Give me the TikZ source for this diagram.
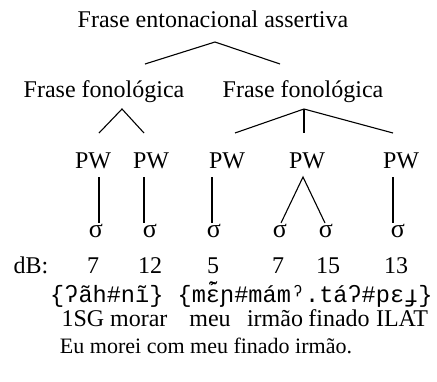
\documentclass[tikz,border=0pt]{standalone}
\usepackage{fontspec}
\setmainfont{Liberation Serif}
\newfontfamily\ipafont{Liberation Mono}
\newcommand{\epsnasacute}{ɛ̃\llap{\raisebox{3pt}{\char"00B4}}}
\begin{document}
\begin{tikzpicture}[x=1pt,y=-1pt,
  txt/.style={font=\fontsize{24}{28}\selectfont, inner sep=0pt, anchor=base},
  sig/.style={font=\fontsize{26}{28}\selectfont, inner sep=0pt, anchor=base},
  trtxt/.style={font=\fontsize{22}{26}\selectfont, inner sep=0pt, anchor=base},
  ipa/.style={font=\ipafont\fontsize{23.6}{28}\selectfont, inner sep=0pt, anchor=base west},
  ln/.style={line width=1.1pt}]
\useasboundingbox (0,0) rectangle (437,381);
% text nodes
\node[txt] (title) at (213,27) {Frase entonacional assertiva};
\node[txt] (ffL) at (104,97) {Frase fonológica};
\node[txt] (ffR) at (303,97) {Frase fonológica};
\node[txt] (pw1) at (93,168) {PW};
\node[txt] (pw2) at (151,168) {PW};
\node[txt] (pw3) at (227,168) {PW};
\node[txt] (pw4) at (307,168) {PW};
\node[txt] (pw5) at (401,168) {PW};
\node[sig] (s1) at (96,237) {σ};
\node[sig] (s2) at (150,237) {σ};
\node[sig] (s3) at (214,237) {σ};
\node[sig] (s4) at (280,237) {σ};
\node[sig] (s5) at (326,237) {σ};
\node[sig] (s6) at (398,237) {σ};
\node[txt] (db) at (31,273) {dB:};
\node[txt] (d1) at (93,273) {7};
\node[txt] (d2) at (150,273) {12};
\node[txt] (d3) at (213,273) {5};
\node[txt] (d4) at (278,273) {7};
\node[txt] (d5) at (328,273) {15};
\node[txt] (d6) at (396,273) {13};
\node[ipa] (ipa) at (50,302) {\{ʔãh\#nĩ\} \{m\epsnasacute ɲ\#mámˀ.táʔ\#pɛɟ\}};
\node[txt] (g1) at (114.5,326) {1SG morar};
\node[txt] (g2) at (210,326) {meu};
\node[txt] (g3) at (275,326) {irmão};
\node[txt] (g4) at (339,326) {finado};
\node[txt] (g5) at (402,326) {ILAT};
\node[trtxt] (tr) at (206,353) {Eu morei com meu finado irmão.};
% connector points
\coordinate (tA) at (215,42);
\coordinate (tL) at (145,64);
\coordinate (tR) at (280,64);
\coordinate (fLA) at (122,109);
\coordinate (fL1) at (99,133);
\coordinate (fL2) at (144,133);
\coordinate (fRA) at (304,109);
\coordinate (fR1) at (235,133);
\coordinate (fR2) at (304,133);
\coordinate (fR3) at (393,133);
\coordinate (p1t) at (99,177);   \coordinate (p1b) at (99,223);
\coordinate (p2t) at (144,177);  \coordinate (p2b) at (144,223);
\coordinate (p3t) at (212,177);  \coordinate (p3b) at (212,223);
\coordinate (p4t) at (303,177);  \coordinate (p4a) at (281,223); \coordinate (p4b) at (325,223);
\coordinate (p5t) at (393,177);  \coordinate (p5b) at (393,223);
% connectors
\draw[ln] (tL) -- (tA) -- (tR);
\draw[ln] (fL1) -- (fLA) -- (fL2);
\draw[ln] (fR1) -- (fRA) -- (fR3);
\draw[ln] (fRA) -- (fR2);
\draw[ln] (p1t) -- (p1b);
\draw[ln] (p2t) -- (p2b);
\draw[ln] (p3t) -- (p3b);
\draw[ln] (p4a) -- (p4t) -- (p4b);
\draw[ln] (p5t) -- (p5b);
\end{tikzpicture}
\end{document}
